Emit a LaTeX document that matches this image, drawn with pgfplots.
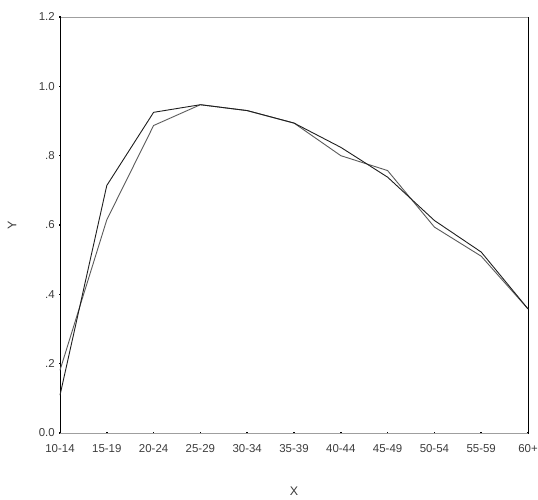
\documentclass[border=0pt]{standalone}
\usepackage{fontspec}
\setmainfont{Liberation Sans}
\usepackage{pgfplots}
\pgfplotsset{compat=1.18}
\definecolor{darkline}{HTML}{1E1E1E}
\definecolor{lightline}{HTML}{5A5A5A}
\definecolor{labelgray}{HTML}{3C3C3C}
\begin{document}
\begin{tikzpicture}
\useasboundingbox (-60bp,-67bp) rectangle (478bp,433bp);
\begin{axis}[
  at={(0,0)}, anchor=south west,
  scale only axis, width=468bp, height=416bp,
  xmin=0, xmax=10, ymin=0, ymax=12,
  xtick={0,...,10},
  xticklabels={10-14,15-19,20-24,25-29,30-34,35-39,40-44,45-49,50-54,55-59,60+},
  ytick={0,2,4,6,8,10,12},
  yticklabels={0.0,.2,.4,.6,.8,1.0,1.2},
  xtick pos=left, ytick pos=left,
  separate axis lines,
  x axis line style={draw=gray!75, line width=0.6pt},
  y axis line style={draw=black, line width=1pt},
  tick style={black, line width=1.6pt},
  major tick length=1.6pt,
  tick align=center,
  xticklabel style={font=\fontsize{11.5}{12}\selectfont, text=labelgray, yshift=-7bp},
  yticklabel style={font=\fontsize{11.5}{12}\selectfont, text=labelgray, xshift=-1bp},
  xlabel={X}, ylabel={Y},
  every axis x label/.style={at={(axis description cs:0.5,0)}, anchor=center, yshift=-58bp, font=\fontsize{12.5}{13}\selectfont, text=labelgray},
  every axis y label/.style={at={(axis description cs:0,0.5)}, anchor=center, rotate=90, yshift=48bp, font=\fontsize{12.5}{13}\selectfont, text=labelgray},
  clip=false,
]
\addplot[lightline, line width=0.9pt] coordinates {
  (0,1.81) (1,6.15) (2,8.87) (3,9.47) (4,9.30) (5,8.94) (6,8.00) (7,7.57) (8,5.94) (9,5.10) (10,3.58)
};
\addplot[darkline, line width=0.9pt] coordinates {
  (0,1.09) (1,7.14) (2,9.25) (3,9.47) (4,9.30) (5,8.94) (6,8.24) (7,7.38) (8,6.13) (9,5.22) (10,3.58)
};
\end{axis}
\end{tikzpicture}
\end{document}
